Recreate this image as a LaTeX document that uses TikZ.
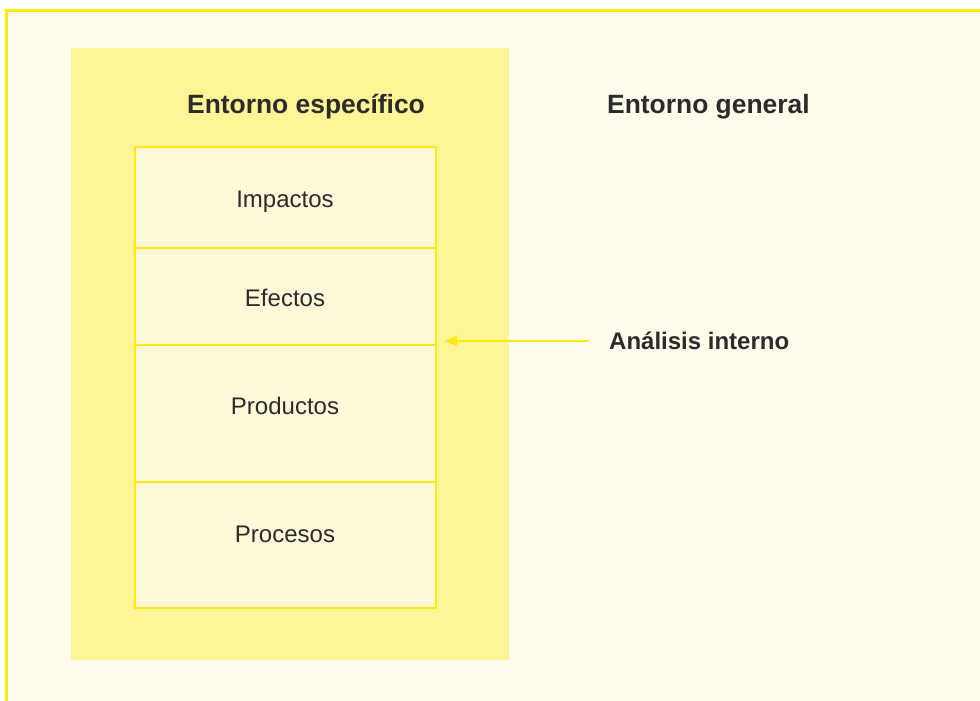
\documentclass[tikz,border=0pt]{standalone}
\usepackage{fontspec}
\setmainfont{Liberation Sans}
\usetikzlibrary{arrows.meta}
\definecolor{cream}{HTML}{FFFCEC}
\definecolor{ylw}{HTML}{FFF496}
\definecolor{boxfill}{HTML}{FFF9DA}
\definecolor{edge}{HTML}{FFEB00}
\definecolor{txt}{HTML}{2B2B2B}
\begin{document}
\begin{tikzpicture}[x=1pt,y=-1pt,
  head/.style={font=\fontsize{26.4}{30}\selectfont\bfseries, text=txt, inner sep=0pt},
  sub/.style={font=\fontsize{24}{28}\selectfont\bfseries, text=txt, inner sep=0pt},
  lbl/.style={font=\fontsize{24}{28}\selectfont, text=txt, inner sep=0pt, anchor=base},
  rowbox/.style={draw=edge, line width=2.2pt, fill=boxfill, minimum width=301pt, inner sep=0pt, outer sep=0pt, anchor=north west},
  conn/.style={draw=edge, line width=2pt, -{Triangle[length=12pt,width=10pt]}}]
\useasboundingbox (0,0) rectangle (980,701);
\fill[white] (0,0) rectangle (980,701);
\fill[cream] (6,11) rectangle (980,701);
\draw[edge, line width=3pt] (6,701) -- (6,11) -- (980,11);
\node[fill=ylw, minimum width=438pt, minimum height=612pt, anchor=north west, inner sep=0pt, outer sep=0pt] (env) at (71,48) {};
\node[rowbox, minimum height=101pt] (r1) at (135,147) {};
\node[rowbox, minimum height=97pt] (r2) at (135,248) {};
\node[rowbox, minimum height=137pt] (r3) at (135,345) {};
\node[rowbox, minimum height=126pt] (r4) at (135,482) {};
\node[lbl] (t1) at (285,207) {Impactos};
\node[lbl] (t2) at (285,306) {Efectos};
\node[lbl] (t3) at (285,414) {Productos};
\node[lbl] (t4) at (285,542) {Procesos};
\node[head, anchor=base] (esp) at (306,113) {Entorno específico};
\node[head, anchor=base west] (gen) at (607,113) {Entorno general};
\node[sub, anchor=base west] (ana) at (609,349) {Análisis interno};
\coordinate (arrS) at (589,341);
\coordinate (arrE) at (445,341);
\draw[conn] (arrS) -- (arrE);
\end{tikzpicture}
\end{document}
